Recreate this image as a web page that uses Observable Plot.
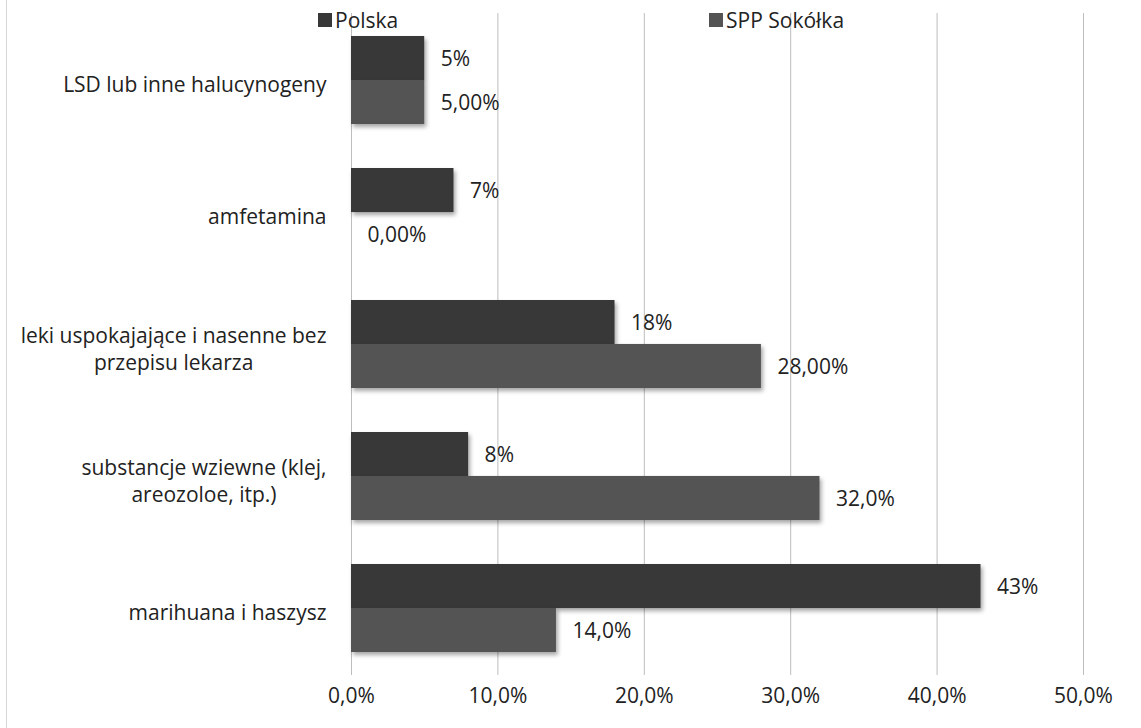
<!DOCTYPE html>
<html>
<head>
<meta charset="utf-8">
<script src="https://cdn.jsdelivr.net/npm/d3@7"></script>
<script src="https://cdn.jsdelivr.net/npm/@observablehq/plot@0.6"></script>
<style>
  body { margin: 0; background: #fff; }
  #wrap { position: relative; width: 1141px; height: 728px; font-family: "Open Sans", sans-serif; }
  #wrap::before { content: ""; position: absolute; left: 6px; top: 0; width: 1px; height: 728px; background: #d6d6d6; }
  .leg { position: absolute; top: 6px; font-size: 21px; color: #222; display: flex; align-items: center; line-height: 28px; }
  .leg i { display: inline-block; width: 14px; height: 14px; margin-right: 3px; }
</style>
</head>
<body>
<div id="wrap"></div>
<script>
const categories = [
  "LSD lub inne halucynogeny",
  "amfetamina",
  "leki uspokajające i nasenne bez\nprzepisu lekarza",
  "substancje wziewne (klej,\nareozoloe, itp.)",
  "marihuana i haszysz"
];
const seriesNames = ["Polska", "SPP Sokółka"];
const polskaValues = [5, 7, 18, 8, 43];
const sokolkaValues = [5, 0, 28, 32, 14];
const polskaLabels = ["5%", "7%", "18%", "8%", "43%"];
const sokolkaLabels = ["5,00%", "0,00%", "28,00%", "32,0%", "14,0%"];
const xTicks = [0, 10, 20, 30, 40, 50];
const colors = ["#383838", "#545454"];

const font = "Open Sans";
const fontSize = 21;
const W = 1141, H = 728, mTop = 13, mBottom = 53, mLeft = 351, mRight = 58;
const padInner = 0.336, padOuter = 0.168;
const step = (H - mTop - mBottom) / (categories.length - padInner + 2 * padOuter);
const half = step * (1 - padInner) / 2;

const rowsP = categories.map((c, i) => ({cat: c, v: polskaValues[i], label: polskaLabels[i]}));
const rowsS = categories.map((c, i) => ({cat: c, v: sokolkaValues[i], label: sokolkaLabels[i]}));

const ctx = document.createElement("canvas").getContext("2d");
ctx.font = `${fontSize}px "${font}"`;
const catW = categories.map(c => Math.max(...c.split("\n").map(l => ctx.measureText(l).width)));

const fmt = d => d.toFixed(1).replace(".", ",") + "%";

const plot = Plot.plot({
  width: W, height: H,
  marginTop: mTop, marginBottom: mBottom, marginLeft: mLeft, marginRight: mRight,
  style: {fontFamily: `"${font}", sans-serif`, fontSize: fontSize + "px", color: "#222", background: "transparent"},
  x: {domain: [0, 50], ticks: xTicks, tickFormat: fmt, label: null},
  y: {domain: categories, paddingInner: padInner, paddingOuter: padOuter, axis: null},
  marks: [
    Plot.gridX(xTicks, {stroke: "#bdbdbd", strokeOpacity: 1, strokeWidth: 1}),
    Plot.axisX({ticks: xTicks, tickFormat: fmt, tickSize: 0, tickPadding: 13, fontSize: fontSize, label: null, fill: "#222"}),
    Plot.barX(rowsP, {x: "v", y: "cat", fill: colors[0], insetBottom: half}),
    Plot.barX(rowsS, {x: "v", y: "cat", fill: colors[1], insetTop: half}),
    Plot.text(rowsP, {x: "v", y: "cat", text: "label", textAnchor: "start", dx: 16, dy: -half / 2 + 1, fill: "#222", fontSize: fontSize}),
    Plot.text(rowsS, {x: "v", y: "cat", text: "label", textAnchor: "start", dx: 16, dy: half / 2 + 1, fill: "#222", fontSize: fontSize}),
    ...categories.map((c, i) => Plot.text([c], {
      y: d => d, text: d => d, frameAnchor: "left", textAnchor: "middle",
      dx: -25 - catW[i] / 2, dy: 3, lineHeight: 1.28, fill: "#222", fontSize: fontSize
    }))
  ]
});

d3.select(plot).selectAll('g[aria-label="bar"]').style("filter", "drop-shadow(2px 3px 2px rgba(0,0,0,0.35))");

const wrap = document.getElementById("wrap");
wrap.appendChild(plot);
plot.style.position = "absolute";
plot.style.left = "0";
plot.style.top = "0";

const legPos = [318, 709];
seriesNames.forEach((name, i) => {
  const el = document.createElement("div");
  el.className = "leg";
  el.style.left = legPos[i] + "px";
  const sw = document.createElement("i");
  sw.style.background = colors[i];
  el.appendChild(sw);
  el.appendChild(document.createTextNode(name));
  wrap.appendChild(el);
});
</script>
</body>
</html>
